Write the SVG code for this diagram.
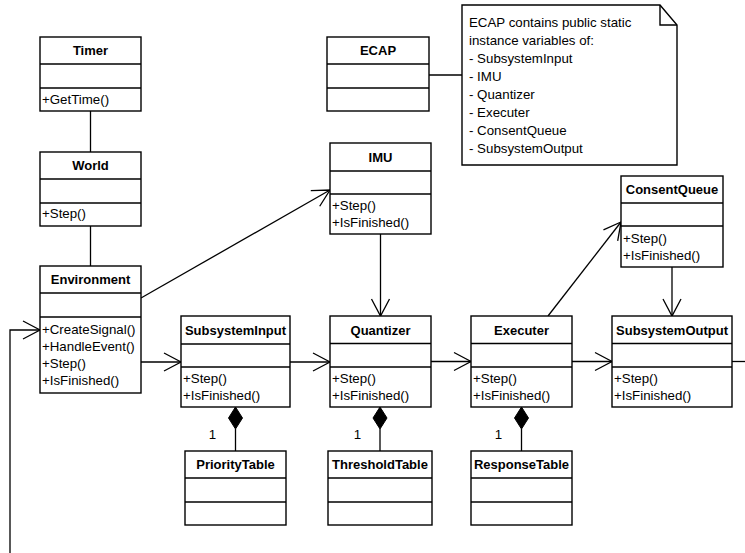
<svg xmlns="http://www.w3.org/2000/svg" width="745" height="553" viewBox="0 0 745 553">
  <style>
    .box { fill: #ffffff; stroke: #000000; stroke-width: 1.4; }
    .div { stroke: #000000; stroke-width: 1.4; fill: none; }
    .title { font-family: "Liberation Sans", Arial, sans-serif; font-size: 13px; font-weight: bold; text-anchor: middle; fill: #000000; }
    .op { font-family: "Liberation Sans", Arial, sans-serif; font-size: 13.3px; fill: #000000; }
    .mult { font-family: "Liberation Sans", Arial, sans-serif; font-size: 13.3px; fill: #000000; text-anchor: middle; }
    .conn { stroke: #000000; stroke-width: 1.3; fill: none; }
    .arrow { stroke: #000000; stroke-width: 1.3; fill: none; marker-end: url(#open); }
    .diamond { fill: #000000; stroke: #000000; stroke-width: 1; }
  </style>
  <defs>
    <marker id="open" markerUnits="userSpaceOnUse" markerWidth="24" markerHeight="24" refX="0" refY="0" viewBox="-20 -12 24 24" orient="auto" overflow="visible">
      <path d="M-17,-9 L0,0 L-17,9" fill="none" stroke="#000000" stroke-width="1.3"/>
    </marker>
  </defs>

  <rect width="745" height="553" fill="#ffffff"/>

  <!-- connectors -->
  <g id="connectors">
    <line class="conn" x1="90.5" y1="111" x2="90.5" y2="152"/>
    <line class="conn" x1="90.5" y1="226" x2="90.5" y2="266"/>
    <line class="conn" x1="429" y1="75" x2="462" y2="75"/>
    <line class="arrow" x1="141" y1="298" x2="330" y2="190"/>
    <line class="arrow" x1="141" y1="362" x2="181" y2="362"/>
    <line class="arrow" x1="290" y1="362" x2="330" y2="362"/>
    <line class="arrow" x1="431" y1="361.5" x2="471" y2="361.5"/>
    <line class="arrow" x1="572" y1="361.5" x2="612" y2="361.5"/>
    <line class="conn" x1="732" y1="361.5" x2="745" y2="361.5"/>
    <line class="arrow" x1="380.5" y1="234" x2="380.5" y2="316"/>
    <line class="arrow" x1="548" y1="316" x2="621" y2="222"/>
    <line class="arrow" x1="672" y1="267" x2="672" y2="316"/>
    <polyline class="arrow" points="10,553 10,330 40,330"/>
    <!-- compositions -->
    <polygon class="diamond" points="235.5,407 242.5,418 235.5,429 228.5,418"/>
    <line class="conn" x1="235.5" y1="429" x2="235.5" y2="451"/>
    <polygon class="diamond" points="380,407 387,418 380,429 373,418"/>
    <line class="conn" x1="380" y1="429" x2="380" y2="451"/>
    <polygon class="diamond" points="521.5,407 528.5,418 521.5,429 514.5,418"/>
    <line class="conn" x1="521.5" y1="429" x2="521.5" y2="451"/>
    <text class="mult" x="212.5" y="439">1</text>
    <text class="mult" x="357.5" y="439">1</text>
    <text class="mult" x="498.5" y="439">1</text>
  </g>

  <!-- note -->
  <g id="note">
    <polygon class="box" points="462,5 660,5 677,25 677,165 462,165"/>
    <polyline class="div" points="660,5 660,25 677,25"/>
    <text class="op" x="469" y="27">ECAP contains public static</text>
    <text class="op" x="469" y="45">instance variables of:</text>
    <text class="op" x="469" y="63">- SubsystemInput</text>
    <text class="op" x="469" y="81">- IMU</text>
    <text class="op" x="469" y="99">- Quantizer</text>
    <text class="op" x="469" y="117">- Executer</text>
    <text class="op" x="469" y="135">- ConsentQueue</text>
    <text class="op" x="469" y="153">- SubsystemOutput</text>
  </g>

  <g id="Timer">
    <rect class="box" x="40" y="37" width="101" height="74"/>
    <line class="div" x1="40" y1="64" x2="141" y2="64"/>
    <line class="div" x1="40" y1="88" x2="141" y2="88"/>
    <text class="title" x="90.5" y="55">Timer</text>
    <text class="op" x="42" y="104">+GetTime()</text>
  </g>

  <g id="World">
    <rect class="box" x="40" y="152" width="101" height="74"/>
    <line class="div" x1="40" y1="179" x2="141" y2="179"/>
    <line class="div" x1="40" y1="203" x2="141" y2="203"/>
    <text class="title" x="90.5" y="170">World</text>
    <text class="op" x="42" y="218">+Step()</text>
  </g>

  <g id="Environment">
    <rect class="box" x="40" y="266" width="101" height="127"/>
    <line class="div" x1="40" y1="293" x2="141" y2="293"/>
    <line class="div" x1="40" y1="317" x2="141" y2="317"/>
    <text class="title" x="90.5" y="284">Environment</text>
    <text class="op" x="42" y="334">+CreateSignal()</text>
    <text class="op" x="42" y="351">+HandleEvent()</text>
    <text class="op" x="42" y="368">+Step()</text>
    <text class="op" x="42" y="385">+IsFinished()</text>
  </g>

  <g id="ECAP">
    <rect class="box" x="327" y="37" width="102" height="74"/>
    <line class="div" x1="327" y1="64" x2="429" y2="64"/>
    <line class="div" x1="327" y1="88" x2="429" y2="88"/>
    <text class="title" x="378" y="55">ECAP</text>
  </g>

  <g id="IMU">
    <rect class="box" x="330" y="143" width="101" height="91"/>
    <line class="div" x1="330" y1="171" x2="431" y2="171"/>
    <line class="div" x1="330" y1="194" x2="431" y2="194"/>
    <text class="title" x="380.5" y="161.5">IMU</text>
    <text class="op" x="332" y="210">+Step()</text>
    <text class="op" x="332" y="227">+IsFinished()</text>
  </g>

  <g id="ConsentQueue">
    <rect class="box" x="621" y="176" width="102" height="91"/>
    <line class="div" x1="621" y1="203" x2="723" y2="203"/>
    <line class="div" x1="621" y1="226" x2="723" y2="226"/>
    <text class="title" x="672" y="194">ConsentQueue</text>
    <text class="op" x="623" y="242.5">+Step()</text>
    <text class="op" x="623" y="259.5">+IsFinished()</text>
  </g>

  <g id="SubsystemInput">
    <rect class="box" x="181" y="316" width="109" height="91"/>
    <line class="div" x1="181" y1="344" x2="290" y2="344"/>
    <line class="div" x1="181" y1="367" x2="290" y2="367"/>
    <text class="title" x="235.5" y="334.5">SubsystemInput</text>
    <text class="op" x="183" y="383">+Step()</text>
    <text class="op" x="183" y="400">+IsFinished()</text>
  </g>

  <g id="Quantizer">
    <rect class="box" x="330" y="316" width="101" height="91"/>
    <line class="div" x1="330" y1="343.5" x2="431" y2="343.5"/>
    <line class="div" x1="330" y1="367" x2="431" y2="367"/>
    <text class="title" x="380.5" y="334.5">Quantizer</text>
    <text class="op" x="332" y="383">+Step()</text>
    <text class="op" x="332" y="400">+IsFinished()</text>
  </g>

  <g id="Executer">
    <rect class="box" x="471" y="316" width="101" height="91"/>
    <line class="div" x1="471" y1="343.5" x2="572" y2="343.5"/>
    <line class="div" x1="471" y1="367" x2="572" y2="367"/>
    <text class="title" x="521.5" y="334.5">Executer</text>
    <text class="op" x="473" y="383">+Step()</text>
    <text class="op" x="473" y="400">+IsFinished()</text>
  </g>

  <g id="SubsystemOutput">
    <rect class="box" x="612" y="316" width="120" height="91"/>
    <line class="div" x1="612" y1="343.5" x2="732" y2="343.5"/>
    <line class="div" x1="612" y1="367" x2="732" y2="367"/>
    <text class="title" x="672" y="334.5">SubsystemOutput</text>
    <text class="op" x="614" y="383">+Step()</text>
    <text class="op" x="614" y="400">+IsFinished()</text>
  </g>

  <g id="PriorityTable">
    <rect class="box" x="185" y="451" width="101" height="74"/>
    <line class="div" x1="185" y1="478" x2="286" y2="478"/>
    <line class="div" x1="185" y1="502" x2="286" y2="502"/>
    <text class="title" x="235.5" y="469">PriorityTable</text>
  </g>

  <g id="ThresholdTable">
    <rect class="box" x="328" y="451" width="104" height="74"/>
    <line class="div" x1="328" y1="478" x2="432" y2="478"/>
    <line class="div" x1="328" y1="502" x2="432" y2="502"/>
    <text class="title" x="380" y="469">ThresholdTable</text>
  </g>

  <g id="ResponseTable">
    <rect class="box" x="471" y="451" width="101" height="74"/>
    <line class="div" x1="471" y1="478" x2="572" y2="478"/>
    <line class="div" x1="471" y1="502" x2="572" y2="502"/>
    <text class="title" x="521.5" y="469">ResponseTable</text>
  </g>
</svg>
